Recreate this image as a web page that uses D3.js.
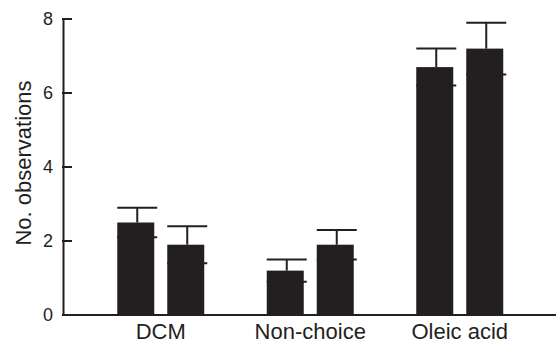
<!DOCTYPE html>
<html><head><meta charset="utf-8">
<script src="https://cdn.jsdelivr.net/npm/d3@7"></script>
<style>body{margin:0;background:#fff}svg{display:block}text{font-family:"Liberation Sans",Arial,sans-serif;fill:#231f20}</style>
</head><body><svg id="c" width="556" height="344"></svg>
<script>
const categories = ["DCM", "Non-choice", "Oleic acid"];
const seriesA = [2.5, 1.2, 6.7];
const seriesB = [1.9, 1.9, 7.2];
const errA = [0.4, 0.3, 0.5];
const errB = [0.5, 0.4, 0.7];
const yTicks = [0, 2, 4, 6, 8];

const data = categories.map((c, i) => ({cat: c, vals: [
  {s: 0, v: seriesA[i], e: errA[i]},
  {s: 1, v: seriesB[i], e: errB[i]}
]}));

const ink = "#231f20";
const svg = d3.select("#c");
const y = d3.scaleLinear().domain([0, 8]).range([315, 19]);
const x = d3.scaleBand().domain(categories).range([86, 534.5]).padding(0);
const xs = d3.scaleBand().domain([0, 1]).range([31.25, 118.25]).paddingInner(0.26).paddingOuter(0);

// bars
const g = svg.append("g").selectAll("g").data(data).join("g")
  .attr("transform", d => `translate(${x(d.cat)},0)`);
g.selectAll("rect").data(d => d.vals).join("rect")
  .attr("x", d => xs(d.s)).attr("width", xs.bandwidth())
  .attr("y", d => y(d.v)).attr("height", d => y(0) - y(d.v))
  .attr("fill", ink);

// error bars
const eb = g.selectAll("g.eb").data(d => d.vals).join("g").attr("class", "eb")
  .attr("transform", d => `translate(${xs(d.s) + xs.bandwidth() / 2 + 1.5},0)`);
const cw = xs.bandwidth() / 2 + 1.5;
eb.append("line").attr("x1", 0).attr("x2", 0)
  .attr("y1", d => y(d.v)).attr("y2", d => y(d.v + d.e))
  .attr("stroke", ink).attr("stroke-width", 2);
eb.append("line").attr("x1", -cw).attr("x2", cw)
  .attr("y1", d => y(d.v + d.e)).attr("y2", d => y(d.v + d.e))
  .attr("stroke", ink).attr("stroke-width", 2);
eb.append("line").attr("x1", -cw).attr("x2", cw)
  .attr("y1", d => y(d.v - d.e)).attr("y2", d => y(d.v - d.e))
  .attr("stroke", ink).attr("stroke-width", 2);

// y axis
const ya = svg.append("g").attr("transform", "translate(63,0)")
  .call(d3.axisLeft(y).tickValues(yTicks).tickSize(0).tickPadding(10).tickFormat(d3.format("d")));
ya.select(".domain").attr("stroke", ink).attr("stroke-width", 2);
ya.selectAll(".tick text").attr("font-size", 18).attr("font-family", "Liberation Sans, Arial, sans-serif").attr("fill", ink);

// inward tick marks
svg.append("g").selectAll("line.tk").data(yTicks).join("line").attr("class", "tk")
  .attr("x1", 62).attr("x2", 72)
  .attr("y1", d => y(d)).attr("y2", d => y(d))
  .attr("stroke", ink).attr("stroke-width", 2);

// x axis line
svg.append("line").attr("x1", 62).attr("x2", 556).attr("y1", y(0)).attr("y2", y(0))
  .attr("stroke", ink).attr("stroke-width", 2);

// x labels
svg.append("g").selectAll("text").data(categories).join("text")
  .attr("x", d => x(d) + x.bandwidth() / 2).attr("y", 339)
  .attr("text-anchor", "middle").attr("font-size", 22).text(d => d);

// y title
svg.append("text").attr("transform", "translate(31,163) rotate(-90)")
  .attr("text-anchor", "middle").attr("font-size", 22).text("No. observations");
</script></body></html>
